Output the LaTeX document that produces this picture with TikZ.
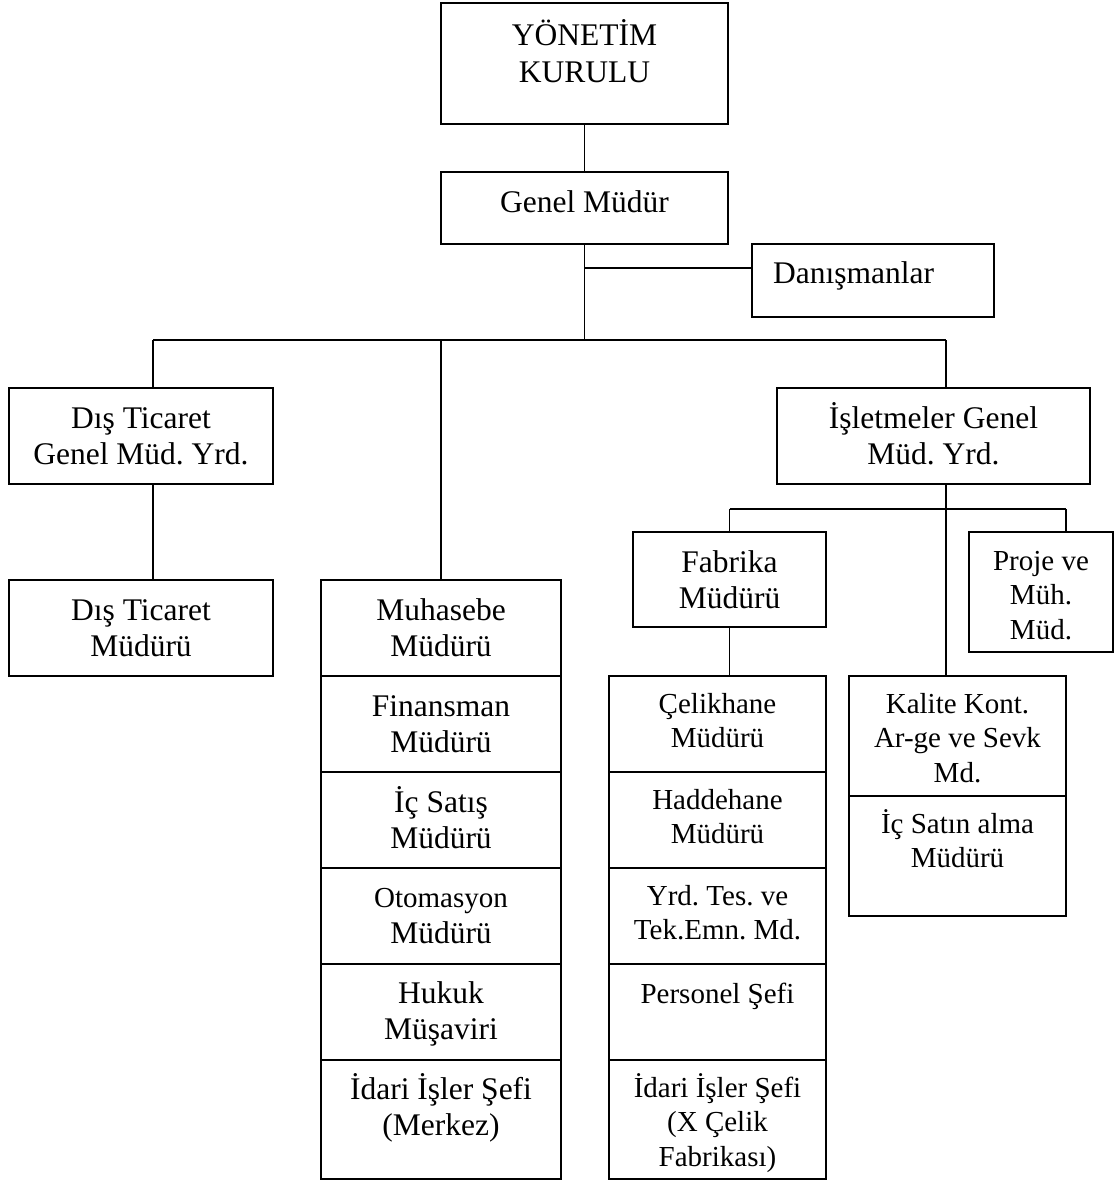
\documentclass[tikz,border=0pt]{standalone}
\usepackage{fontspec}
\setmainfont{Liberation Serif}
\frenchspacing
\newcommand\bigsz{\fontsize{31.5}{36.5}\selectfont}
\newcommand\smallsz{\fontsize{29}{34.5}\selectfont}
\newcommand\firstln{\rule{0pt}{30pt}}
\tikzset{
  box/.style={draw, line width=1.9pt, rectangle, inner sep=0pt, outer sep=0pt},
  link/.style={line width=1.9pt},
  lbig/.style={anchor=north, inner sep=0pt, align=center, font=\bigsz},
  lsmall/.style={anchor=north, inner sep=0pt, align=center, font=\smallsz},
}
\begin{document}
\begin{tikzpicture}[x=1pt, y=-1pt]
\useasboundingbox (0,0) rectangle (1114,1180);

% top of the hierarchy
\node[box, minimum width=287pt, minimum height=121pt] (yk)  at (584.5,63.5) {};
\node[box, minimum width=287pt, minimum height=72pt]  (gm)  at (584.5,208)  {};
\node[box, minimum width=242pt, minimum height=73pt]  (dan) at (873,280.5)  {};

% deputy general managers
\node[box, minimum width=264pt, minimum height=96pt] (dtg) at (141,436) {};
\node[box, minimum width=264pt, minimum height=96pt] (dtm) at (141,628) {};
\node[box, minimum width=313pt, minimum height=96pt] (isl) at (933.5,436) {};

% headquarters column
\node[box, minimum width=240pt, minimum height=96pt]  (m1) at (441,628)    {};
\node[box, minimum width=240pt, minimum height=96pt]  (m2) at (441,724)    {};
\node[box, minimum width=240pt, minimum height=96pt]  (m3) at (441,820)    {};
\node[box, minimum width=240pt, minimum height=96pt]  (m4) at (441,916)    {};
\node[box, minimum width=240pt, minimum height=96pt]  (m5) at (441,1012)   {};
\node[box, minimum width=240pt, minimum height=119pt] (m6) at (441,1119.5) {};

% operations branch
\node[box, minimum width=193pt, minimum height=95pt]  (fab) at (729.5,579.5) {};
\node[box, minimum width=144pt, minimum height=120pt] (pro) at (1041,592)    {};

\node[box, minimum width=217pt, minimum height=96pt]  (f1) at (717.5,724)    {};
\node[box, minimum width=217pt, minimum height=96pt]  (f2) at (717.5,820)    {};
\node[box, minimum width=217pt, minimum height=96pt]  (f3) at (717.5,916)    {};
\node[box, minimum width=217pt, minimum height=96pt]  (f4) at (717.5,1012)   {};
\node[box, minimum width=217pt, minimum height=119pt] (f5) at (717.5,1119.5) {};

\node[box, minimum width=217pt, minimum height=120pt] (k1) at (957.5,736) {};
\node[box, minimum width=217pt, minimum height=120pt] (k2) at (957.5,856) {};

% labels
\node[lbig, font=\fontsize{31.5}{37}\selectfont] (t-yk) at ([yshift=-12pt]yk.north) {\firstln YÖNETİM\\KURULU};
\node[lbig] (t-gm) at ([yshift=-10.7pt]gm.north) {\firstln Genel Müdür};
\node[lbig, anchor=north west] (t-dan) at ([yshift=-9pt]dan.north west -| 773,0) {\firstln Danışmanlar};

\node[lbig] (t-dtg) at ([yshift=-10pt]dtg.north) {\firstln Dış Ticaret\\Genel Müd. Yrd.};
\node[lbig] (t-dtm) at ([yshift=-10pt]dtm.north) {\firstln Dış Ticaret\\Müdürü};
\node[lbig] (t-isl) at ([yshift=-10pt]isl.north) {\firstln İşletmeler Genel\\Müd. Yrd.};

\node[lbig] (t-m1) at ([yshift=-10pt]m1.north) {\firstln Muhasebe\\Müdürü};
\node[lbig] (t-m2) at ([yshift=-10pt]m2.north) {\firstln Finansman\\Müdürü};
\node[lbig] (t-m3) at ([yshift=-10pt]m3.north) {\firstln İç Satış\\Müdürü};
\node[lbig] (t-m4) at ([yshift=-9pt]m4.north)  {\firstln{\smallsz Otomasyon}\\Müdürü};
\node[lbig] (t-m5) at ([yshift=-9pt]m5.north)  {\firstln Hukuk\\Müşaviri};
\node[lbig] (t-m6) at ([yshift=-9pt]m6.north)  {\firstln İdari İşler Şefi\\(Merkez)};

\node[lbig]   (t-fab) at ([yshift=-10pt]fab.north) {\firstln Fabrika\\Müdürü};
\node[lsmall] (t-pro) at ([yshift=-8pt]pro.north)  {\firstln Proje ve\\Müh.\\Müd.};

\node[lsmall] (t-f1) at ([yshift=-7pt]f1.north) {\firstln Çelikhane\\Müdürü};
\node[lsmall] (t-f2) at ([yshift=-7pt]f2.north) {\firstln Haddehane\\Müdürü};
\node[lsmall] (t-f3) at ([yshift=-7pt]f3.north) {\firstln Yrd. Tes. ve\\Tek.Emn. Md.};
\node[lsmall] (t-f4) at ([yshift=-9pt]f4.north) {\firstln Personel Şefi};
\node[lsmall] (t-f5) at ([yshift=-7pt]f5.north) {\firstln İdari İşler Şefi\\(X Çelik\\Fabrikası)};

\node[lsmall] (t-k1) at ([yshift=-7pt]k1.north) {\firstln Kalite Kont.\\Ar-ge ve Sevk\\Md.};
\node[lsmall] (t-k2) at ([yshift=-7pt]k2.north) {\firstln İç Satın alma\\Müdürü};

% junction points of the connectors
\coordinate (danj) at (584.5,268);
\coordinate (bL)   at (153,340);
\coordinate (bR)   at (946,340);
\coordinate (sL)   at (729.5,509);
\coordinate (sR)   at (1066,509);

% connectors
\draw[link] (yk.south) -- (gm.north);
\draw[link] (gm.south) -- (gm.south |- bL);
\draw[link] (danj) -- (danj -| dan.west);
\draw[link] (bL) -- (bR);
\draw[link] (bL) -- (bL |- dtg.north);
\draw[link] (bL |- dtg.south) -- (bL |- dtm.north);
\draw[link] (m1.north |- bL) -- (m1.north);
\draw[link] (bR) -- (bR |- isl.north);
\draw[link] (bR |- isl.south) -- (bR |- k1.north);
\draw[link] (sL) -- (sR);
\draw[link] (sL) -- (fab.north);
\draw[link] (sR) -- (sR |- pro.north);
\draw[link] (fab.south) -- (fab.south |- f1.north);
\end{tikzpicture}
\end{document}
